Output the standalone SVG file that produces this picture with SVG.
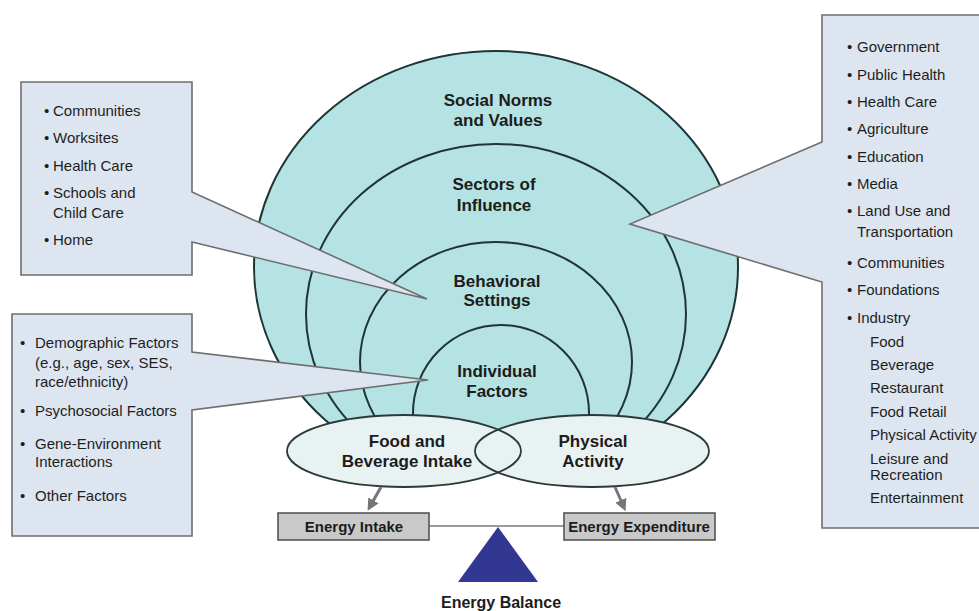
<svg xmlns="http://www.w3.org/2000/svg" width="979" height="611" viewBox="0 0 979 611">
  <style>
    .ring { fill: #b5e2e2; stroke: #1f3535; stroke-width: 2; }
    .oval { fill: #e9f2f3; }
    .oval-line { fill: none; stroke: #2a3a3a; stroke-width: 1.8; }
    .callout { fill: #dde6f0; stroke: #6e6e6e; stroke-width: 1.6; stroke-linejoin: miter; }
    .item { font-family: "Liberation Sans", Arial, sans-serif; font-size: 15px; fill: #1e1e1e; }
    .label { font-family: "Liberation Sans", Arial, sans-serif; font-size: 17px; font-weight: bold; fill: #1c1c1c; text-anchor: middle; }
    .boxlabel { font-family: "Liberation Sans", Arial, sans-serif; font-size: 15px; font-weight: bold; fill: #1c1c1c; text-anchor: middle; }
    .energy-box { fill: #c9c9c9; stroke: #555; stroke-width: 1.6; }
    .flow { stroke: #767676; stroke-width: 3; fill: none; }
  </style>
  <defs>
    <clipPath id="above-ovals">
      <rect x="0" y="0" width="979" height="440"/>
    </clipPath>
    <marker id="head" markerWidth="4" markerHeight="4" refX="1" refY="2" orient="auto" markerUnits="strokeWidth">
      <path d="M0,0 L4,2 L0,4 Z" fill="#767676"/>
    </marker>
  </defs>

  <rect width="979" height="611" fill="#ffffff"/>

  <!-- Nested spheres of influence -->
  <g clip-path="url(#above-ovals)">
    <g id="social-norms">
      <ellipse class="ring" cx="496" cy="267" rx="242" ry="216"/>
    </g>
    <g id="sectors">
      <ellipse class="ring" cx="496" cy="314" rx="190" ry="170"/>
    </g>
    <g id="behavioral-settings">
      <ellipse class="ring" cx="496" cy="362" rx="136" ry="120"/>
    </g>
    <g id="individual-factors">
      <ellipse class="ring" cx="501" cy="413" rx="88" ry="88"/>
    </g>
  </g>

  <!-- Intake / activity ovals -->
  <g id="food-beverage">
    <ellipse class="oval" cx="404" cy="451" rx="117" ry="36"/>
  </g>
  <g id="physical-activity">
    <ellipse class="oval" cx="592" cy="451" rx="117" ry="36"/>
  </g>
  <ellipse class="oval-line" cx="404" cy="451" rx="117" ry="36"/>
  <ellipse class="oval-line" cx="592" cy="451" rx="117" ry="36"/>

  <!-- Ring labels -->
  <text class="label" x="498" y="106">Social Norms</text>
  <text class="label" x="498" y="126">and Values</text>
  <text class="label" x="494" y="190">Sectors of</text>
  <text class="label" x="494" y="211">Influence</text>
  <text class="label" x="497" y="287">Behavioral</text>
  <text class="label" x="497" y="306">Settings</text>
  <text class="label" x="497" y="377">Individual</text>
  <text class="label" x="497" y="397">Factors</text>
  <text class="label" x="407" y="447">Food and</text>
  <text class="label" x="407" y="467">Beverage Intake</text>
  <text class="label" x="593" y="447">Physical</text>
  <text class="label" x="593" y="467">Activity</text>

  <!-- Callout: behavioral settings -->
  <g id="settings-callout">
    <path class="callout" d="M21,82 H192 V192 L427,299 L192,242 V275 H21 Z"/>
    <text class="item" y="116"><tspan x="44">•</tspan><tspan x="53">Communities</tspan></text>
    <text class="item" y="143"><tspan x="44">•</tspan><tspan x="53">Worksites</tspan></text>
    <text class="item" y="171"><tspan x="44">•</tspan><tspan x="53">Health Care</tspan></text>
    <text class="item" y="198"><tspan x="44">•</tspan><tspan x="53">Schools and</tspan></text>
    <text class="item" x="53" y="218">Child Care</text>
    <text class="item" y="245"><tspan x="44">•</tspan><tspan x="53">Home</tspan></text>
  </g>

  <!-- Callout: individual factors -->
  <g id="individual-callout">
    <path class="callout" d="M12,314 H192 V352 L428,380 L192,410 V536 H12 Z"/>
    <text class="item" y="348"><tspan x="20">•</tspan><tspan x="35">Demographic Factors</tspan></text>
    <text class="item" x="35" y="368">(e.g., age, sex, SES,</text>
    <text class="item" x="35" y="387">race/ethnicity)</text>
    <text class="item" y="416"><tspan x="20">•</tspan><tspan x="35">Psychosocial Factors</tspan></text>
    <text class="item" y="449"><tspan x="20">•</tspan><tspan x="35">Gene-Environment</tspan></text>
    <text class="item" x="35" y="467">Interactions</text>
    <text class="item" y="501"><tspan x="20">•</tspan><tspan x="35">Other Factors</tspan></text>
  </g>

  <!-- Callout: sectors of influence -->
  <g id="sectors-callout">
    <path class="callout" d="M822,15 H995 V528 H822 V282 L630,224 L822,142 Z"/>
    <text class="item" y="52"><tspan x="847">•</tspan><tspan x="857">Government</tspan></text>
    <text class="item" y="80"><tspan x="847">•</tspan><tspan x="857">Public Health</tspan></text>
    <text class="item" y="107"><tspan x="847">•</tspan><tspan x="857">Health Care</tspan></text>
    <text class="item" y="134"><tspan x="847">•</tspan><tspan x="857">Agriculture</tspan></text>
    <text class="item" y="162"><tspan x="847">•</tspan><tspan x="857">Education</tspan></text>
    <text class="item" y="189"><tspan x="847">•</tspan><tspan x="857">Media</tspan></text>
    <text class="item" y="216"><tspan x="847">•</tspan><tspan x="857">Land Use and</tspan></text>
    <text class="item" x="857" y="237">Transportation</text>
    <text class="item" y="268"><tspan x="847">•</tspan><tspan x="857">Communities</tspan></text>
    <text class="item" y="295"><tspan x="847">•</tspan><tspan x="857">Foundations</tspan></text>
    <text class="item" y="323"><tspan x="847">•</tspan><tspan x="857">Industry</tspan></text>
    <text class="item" x="870" y="347">Food</text>
    <text class="item" x="870" y="370">Beverage</text>
    <text class="item" x="870" y="393">Restaurant</text>
    <text class="item" x="870" y="417">Food Retail</text>
    <text class="item" x="870" y="440">Physical Activity</text>
    <text class="item" x="870" y="464">Leisure and</text>
    <text class="item" x="870" y="480">Recreation</text>
    <text class="item" x="870" y="503">Entertainment</text>
  </g>

  <!-- Connectors -->
  <g id="connectors">
    <line class="flow" x1="381" y1="487" x2="372" y2="503" marker-end="url(#head)"/>
    <line class="flow" x1="615" y1="487" x2="622" y2="503" marker-end="url(#head)"/>
    <line x1="429" y1="526" x2="564" y2="526" stroke="#7a7a7a" stroke-width="1.5"/>
  </g>

  <!-- Energy balance scale -->
  <g id="energy-intake">
    <rect class="energy-box" x="278" y="513" width="151" height="27"/>
    <text class="boxlabel" x="354" y="532">Energy Intake</text>
  </g>
  <g id="energy-expenditure">
    <rect class="energy-box" x="564" y="513" width="151" height="27"/>
    <text class="boxlabel" x="639" y="532">Energy Expenditure</text>
  </g>
  <g id="energy-balance">
    <polygon points="498,527 538,582 458,582" fill="#323892"/>
    <text class="boxlabel" x="501" y="608" style="font-size:16px">Energy Balance</text>
  </g>
</svg>
